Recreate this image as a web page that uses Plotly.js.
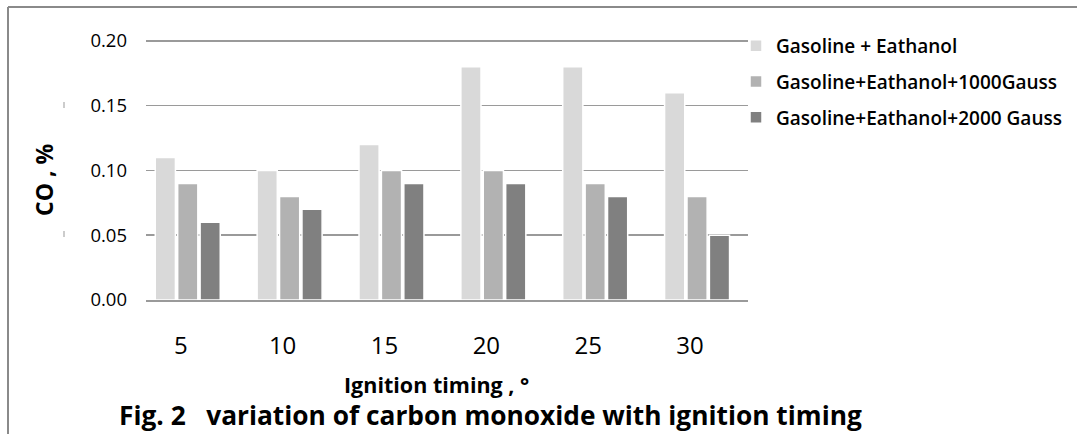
<!DOCTYPE html>
<html>
<head>
<meta charset="utf-8">
<script src="https://cdn.plot.ly/plotly-3.0.1.min.js"></script>
<style>
  html, body { margin: 0; padding: 0; background: #fff; }
  #chart { width: 1077px; height: 434px; }
</style>
</head>
<body>
<div id="chart"></div>
<script>
// ---- data ----
const categories = ['5', '10', '15', '20', '25', '30'];
const seriesNames = ['Gasoline + Eathanol', 'Gasoline+Eathanol+1000Gauss', 'Gasoline+Eathanol+2000 Gauss'];
const gasolineEthanol = [0.11, 0.10, 0.12, 0.18, 0.18, 0.16];
const gauss1000 = [0.09, 0.08, 0.10, 0.10, 0.09, 0.08];
const gauss2000 = [0.06, 0.07, 0.09, 0.09, 0.08, 0.05];
const yTickVals = [0, 0.05, 0.10, 0.15, 0.20];
const yTickText = ['0.00', '0.05', '0.10', '0.15', '0.20'];
const seriesColors = ['#d9d9d9', '#b2b2b2', '#808080'];
const seriesValues = [gasolineEthanol, gauss1000, gauss2000];

const FONT = '"Open Sans", "Liberation Sans", sans-serif';

const traces = seriesValues.map((vals, i) => ({
  type: 'bar',
  name: seriesNames[i],
  x: categories,
  y: vals,
  legendgroup: 'g' + i,
  marker: { color: seriesColors[i], line: { color: '#ffffff', width: 1.5 } },
  hoverinfo: 'x+y+name'
}));

// helpers for pixel -> paper conversion (plot area 146..748 x 35..300)
const L = 146, R = 748, T = 35, B = 300;
const px = v => (v - L) / (R - L);
const py = v => (B - v) / (B - T);

const layout = {
  width: 1077,
  height: 434,
  margin: { l: L, r: 1077 - R, t: T, b: 434 - B, pad: 0, autoexpand: false },
  paper_bgcolor: '#ffffff',
  plot_bgcolor: '#ffffff',
  font: { family: FONT, color: '#000000' },
  barmode: 'group',
  bargap: 0.34,
  bargroupgap: 0.1,
  showlegend: true,
  legend: {
    x: px(736), xanchor: 'left',
    y: py(27), yanchor: 'top',
    font: { family: FONT, size: 19, color: '#000', weight: 600 },
    traceorder: 'grouped',
    tracegroupgap: 8,
    bgcolor: 'rgba(0,0,0,0)',
    itemclick: false
  },
  xaxis: {
    type: 'category',
    range: [-0.41, 5.5],
    showgrid: false,
    showline: true,
    linecolor: '#9a9a9a',
    linewidth: 1.5,
    ticks: '',
    tickfont: { family: FONT, size: 24, color: '#000' },
    ticklabelstandoff: 24,
    ticklabelshift: -7,
    zeroline: false,
    automargin: false,
    fixedrange: true
  },
  yaxis: {
    range: [0, 0.2046],
    tickvals: yTickVals,
    ticktext: yTickText,
    showgrid: true,
    gridcolor: '#9a9a9a',
    gridwidth: 1.5,
    showline: false,
    zeroline: false,
    ticks: '',
    tickfont: { family: FONT, size: 18.5, color: '#000' },
    ticklabelstandoff: 18,
    automargin: false,
    fixedrange: true
  },
  annotations: [
    {
      text: '<b>CO , %</b>', xref: 'paper', yref: 'paper',
      x: px(44), y: py(180), xanchor: 'center', yanchor: 'middle',
      textangle: -90, showarrow: false,
      font: { family: FONT, size: 23, color: '#000' }
    },
    {
      text: '<b>Ignition timing , °</b>', xref: 'paper', yref: 'paper',
      x: px(342), y: py(384), xanchor: 'left', yanchor: 'middle',
      showarrow: false,
      font: { family: FONT, size: 21.5, color: '#000' }
    },
    {
      text: '<b>Fig. 2   variation of carbon monoxide with ignition timing</b>', xref: 'paper', yref: 'paper',
      x: px(117), y: py(415), xanchor: 'left', yanchor: 'middle',
      showarrow: false,
      font: { family: FONT, size: 26.3, color: '#000' }
    }
  ],
  shapes: [
    { type: 'line', xref: 'paper', yref: 'paper', x0: px(8), x1: px(1077), y0: py(7), y1: py(7), line: { color: '#8a8a8a', width: 2 } },
    { type: 'line', xref: 'paper', yref: 'paper', x0: px(8), x1: px(8), y0: py(7), y1: py(434), line: { color: '#8a8a8a', width: 2 } },
    { type: 'line', xref: 'paper', yref: 'paper', x0: px(64), x1: px(64), y0: py(102), y1: py(108), line: { color: '#999', width: 1 } },
    { type: 'line', xref: 'paper', yref: 'paper', x0: px(64), x1: px(64), y0: py(231), y1: py(237), line: { color: '#999', width: 1 } }
  ]
};

Plotly.newPlot('chart', traces, layout, { displayModeBar: false, staticPlot: true });
</script>
</body>
</html>
